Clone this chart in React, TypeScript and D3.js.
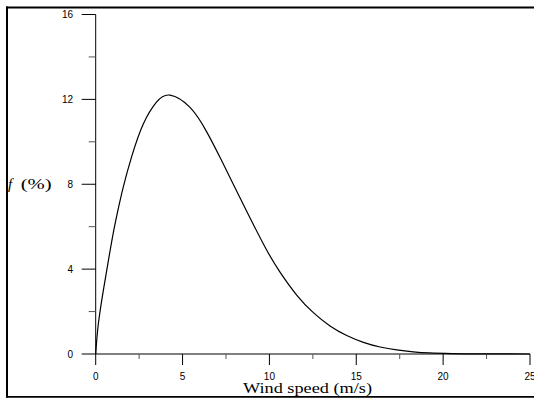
import React from "react";
import * as d3 from "d3";

const windSpeed = [0, 0.15, 0.44, 0.73, 1.01, 1.3, 1.59, 2.07, 2.74, 3.51, 4.28, 5.43, 6.39, 7.16, 7.92, 8.88, 9.84, 10.61, 11.57, 12.53, 13.49, 14.45, 15.41, 16.37, 17.33, 18.28, 19.2, 20.5, 22, 25];
const freqPct = [0, 1.4, 3.0, 4.4, 5.7, 6.85, 7.88, 9.3, 10.84, 11.88, 12.2, 11.62, 10.47, 9.26, 8.0, 6.42, 4.9, 3.86, 2.78, 1.95, 1.32, 0.87, 0.55, 0.33, 0.19, 0.1, 0.05, 0.02, 0.005, 0.0];
const xMajorTicks = [0, 5, 10, 15, 20, 25];
const xMinorTicks = [2.5, 7.5, 12.5, 17.5, 22.5];
const yMajorTicks = [0, 4, 8, 12, 16];
const yMinorTicks = [2, 6, 10, 14];

export default function App() {
  const x = d3.scaleLinear().domain([0, 25]).range([95.7, 530]);
  const y = d3.scaleLinear().domain([0, 16]).range([354, 14.5]);
  const data = windSpeed.map((v, i) => [v, freqPct[i]] as [number, number]);
  const line = d3
    .line<[number, number]>()
    .x((d) => x(d[0]))
    .y((d) => Math.min(y(0), y(d[1])))
    .curve(d3.curveNatural);
  const tickFont = "'Liberation Sans', Arial, sans-serif";
  const serif = "'Liberation Serif', 'Times New Roman', serif";
  return (
    <svg
      width={534}
      height={398}
      style={{ position: "absolute", left: 0, top: 0, background: "#fff" }}
    >
      {/* frame */}
      <line x1={6} x2={534} y1={7.5} y2={7.5} stroke="#000" strokeWidth={2} />
      <line x1={7} x2={7} y1={6.5} y2={397.5} stroke="#000" strokeWidth={2} />
      <line x1={6} x2={534} y1={396.8} y2={396.8} stroke="#000" strokeWidth={1.8} />

      {/* axes */}
      <line x1={x(0)} x2={x(0)} y1={y(16)} y2={y(0)} stroke="#000" strokeWidth={1} />
      <line x1={x(0)} x2={x(25)} y1={y(0)} y2={y(0)} stroke="#000" strokeWidth={1} />

      {yMajorTicks.map((t) => (
        <g key={"ym" + t}>
          <line x1={x(0) - 14} x2={x(0)} y1={y(t)} y2={y(t)} stroke="#000" strokeWidth={1} />
          <text
            x={73}
            y={y(t)}
            dy="0.35em"
            textAnchor="end"
            fontFamily={tickFont}
            fontSize={10}
            fill="#000"
          >
            {t}
          </text>
        </g>
      ))}
      {yMinorTicks.map((t) => (
        <line key={"yn" + t} x1={x(0) - 7} x2={x(0)} y1={y(t)} y2={y(t)} stroke="#555" strokeWidth={1} />
      ))}
      {xMajorTicks.map((t) => (
        <g key={"xm" + t}>
          <line x1={x(t)} x2={x(t)} y1={y(0)} y2={y(0) + 11} stroke="#000" strokeWidth={1} />
          <text
            x={x(t)}
            y={y(0) + 22.5}
            dy="0.35em"
            textAnchor="middle"
            fontFamily={tickFont}
            fontSize={10}
            fill="#000"
          >
            {t}
          </text>
        </g>
      ))}
      {xMinorTicks.map((t) => (
        <line key={"xn" + t} x1={x(t)} x2={x(t)} y1={y(0)} y2={y(0) + 5} stroke="#555" strokeWidth={1} />
      ))}

      {/* curve */}
      <path d={line(data) || ""} fill="none" stroke="#000" strokeWidth={1.2} />

      {/* axis titles */}
      <text
        x={243}
        y={392.5}
        fontFamily={serif}
        fontSize={14}
        textLength={129}
        lengthAdjust="spacingAndGlyphs"
        fill="#000"
      >
        Wind speed (m/s)
      </text>
      <text x={8} y={189} fontFamily={serif} fontSize={15} fontStyle="italic" fill="#000">
        f
      </text>
      <text
        x={20.7}
        y={189}
        fontFamily={serif}
        fontSize={15}
        textLength={31}
        lengthAdjust="spacingAndGlyphs"
        fill="#000"
      >
        (%)
      </text>
    </svg>
  );
}
